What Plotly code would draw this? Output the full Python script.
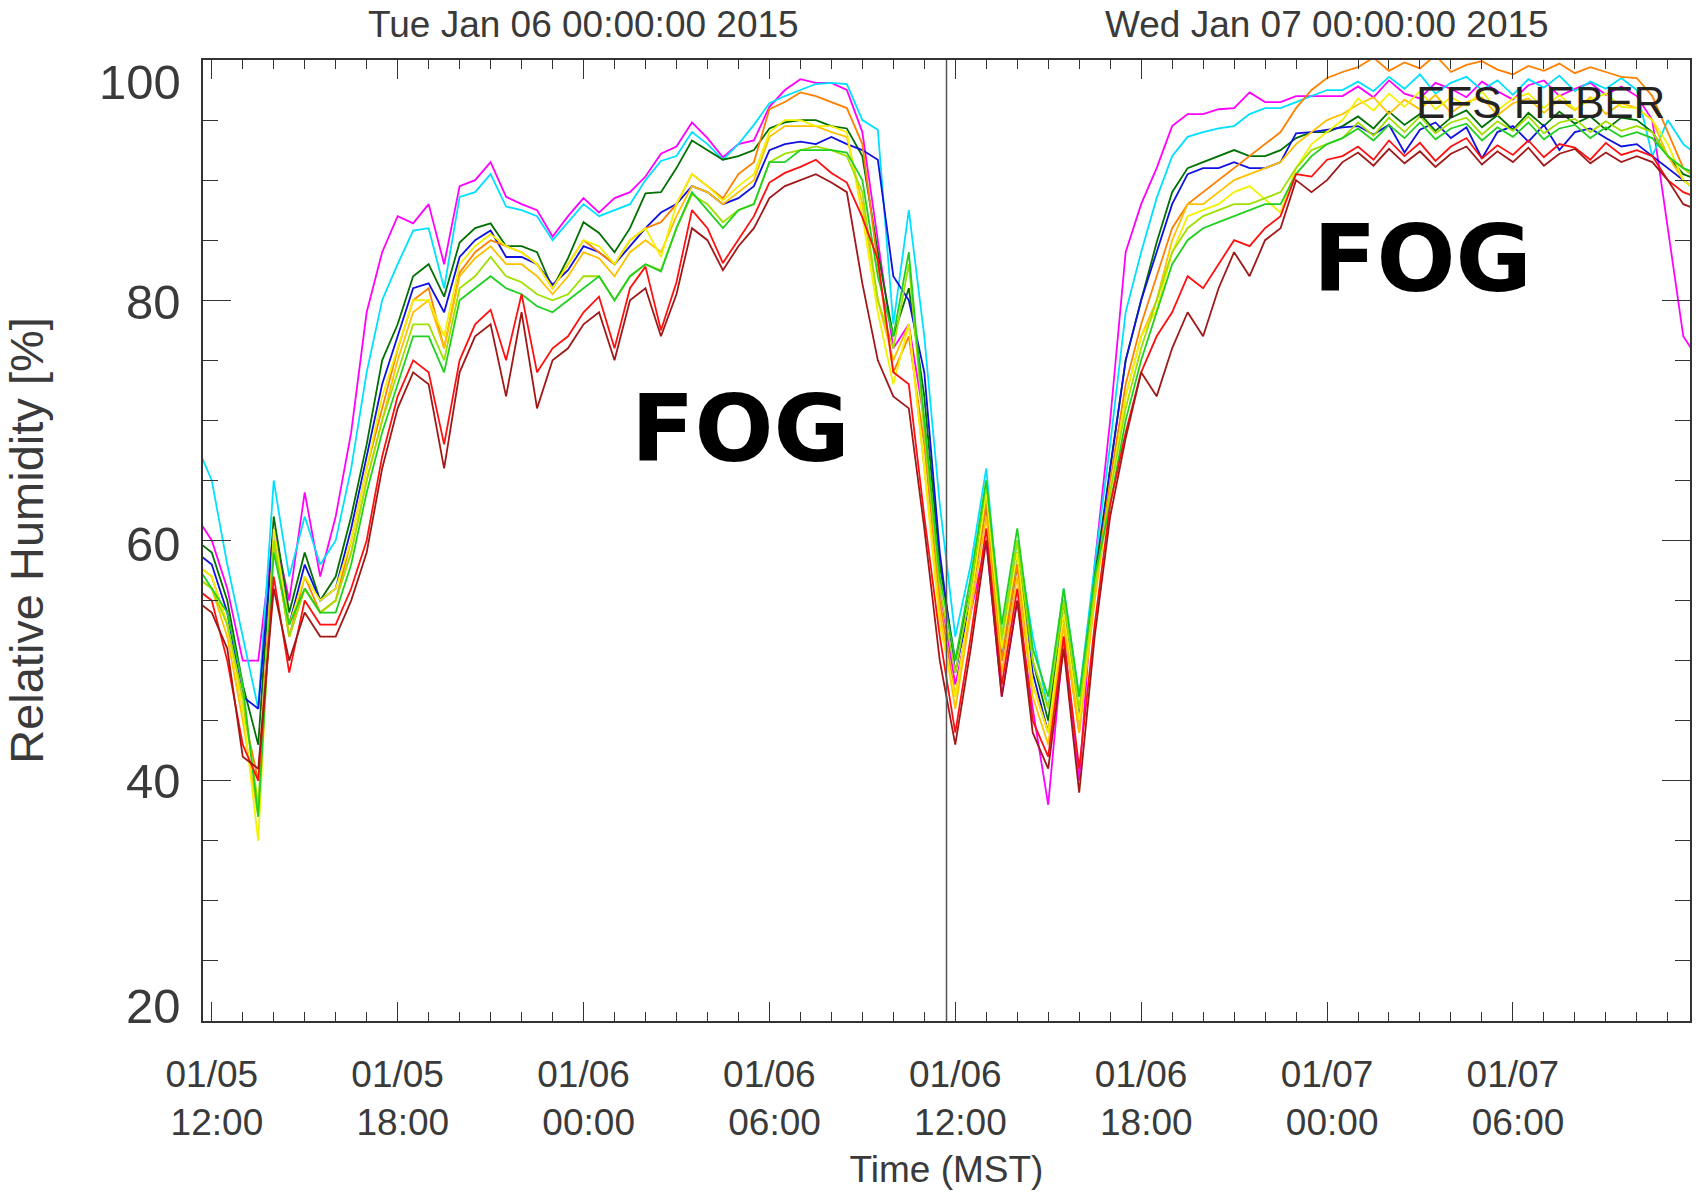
import pandas as pd
import plotly.graph_objects as go

# Half-hourly relative humidity samples, 2015-01-05 11:30 .. 2015-01-07 12:00 MST
times = pd.date_range("2015-01-05 11:30", periods=98, freq="30min")

rh_magenta = [62, 60, 56, 50, 50, 61, 55, 64, 57, 62, 69,
              79, 84, 87, 86.4, 88, 83, 89.5, 90, 91.5, 88.6, 88, 87.5, 85.3, 87, 88.5, 87.3, 88.5, 89, 90.3, 92.2,
              92.8, 94.8, 93.5, 91.9, 93, 93.3, 96.1, 97.5, 98.4, 98.1, 98.1, 97.5,
              94, 85, 76, 78, 70, 56, 48, 54, 60, 47, 55, 46, 38, 52, 40, 58,
              70, 84, 88, 91, 94.5, 95.5, 95.5, 95.9, 96, 97.3, 96.5, 96.5, 97, 97, 97, 97,
              97.8, 96.9, 98.3, 97.2, 96.8, 98.1, 97.6, 96.9, 98.2, 97.4, 96.7, 97.9, 98.3, 97, 97.6, 98.1, 97.1, 97.8,
              97, 95, 86, 77, 75]
rh_cyan = [68, 65, 58, 52, 46, 65, 57, 62, 58, 60, 66,
           74, 80, 83, 85.8, 86, 81, 88.6, 89, 90.5, 87.8, 87.5, 87, 85, 86.5, 88, 87, 87.5, 88, 90, 91.6,
           92, 94, 93, 91.7, 93, 94.6, 96.4, 97, 97.5, 98, 98.1, 98,
           95, 94.2, 78, 87.5, 77, 63, 52, 58, 66, 52, 60, 52, 46, 56, 47, 58,
           68, 79, 84, 88.5, 92, 93.6, 94, 94.3, 94.5, 95.5, 96, 96, 96.5, 97, 97.5, 97.5,
           98.2, 97.4, 98.6, 97.6, 98.8, 97.2, 98.1, 98.6, 97.5, 98.3, 97.1, 98.4, 97.7, 98.7, 97.4, 98.2, 97.6, 98.5,
           97.5, 92, 95, 93, 92]
rh_darkgreen = [60, 59, 55, 48, 43, 62, 54, 59, 55, 57, 62,
                68, 75, 78, 82, 83, 80.3, 84.8, 86, 86.4, 84.5, 84.5, 84, 81, 83.5, 86.5, 85.6, 84, 86, 88.9, 89,
                91, 93.3, 92.5, 91.7, 92, 92.5, 94.3, 94.8, 95, 95, 94.5, 94.3,
                92, 84, 77, 81, 72, 58, 50, 56, 64, 51, 59, 50, 45, 55, 45, 57,
                66, 75, 80, 84.8, 89, 91, 91.5, 92, 92.5, 92, 92, 92.5, 93.5, 94, 94, 94.5,
                95.3, 94.3, 95.7, 94.6, 95.5, 94.1, 95.2, 95.8, 94.4, 95.4, 94.2, 95.6, 94.5, 95.7, 94.7, 95.3, 94.2, 95.2,
                95, 94, 92, 90.5, 90]
rh_blue = [59, 58, 54, 47, 46, 61, 53, 58, 55, 56, 61,
           67, 73, 77, 81, 81.4, 79, 83.6, 85, 85.8, 83.6, 83.6, 83, 81.3, 82.5, 84.5, 84, 83, 84.5, 86, 87.3,
           88, 89.5, 89, 88, 88.5, 89.5, 92.5, 93, 93.2, 93, 93.6, 93,
           92.5, 91.7, 82, 80, 74, 59, 49, 55, 63, 50, 58, 49, 44, 54, 45, 56,
           66, 75, 80, 84, 88, 90.5, 91, 91, 91.5, 91, 91, 91.5, 93.9, 94, 94.2, 94.4,
           94.5, 93.8, 94.6, 92.3, 94.2, 94.8, 93.5, 94.4, 91.8, 94, 94.5, 93.2, 94.6, 92.5, 94, 94.3, 93.5, 92.8,
           93, 92, 91, 90, 89]
rh_orange = [58, 57, 53, 46, 40, 60, 52, 57, 54, 55, 60,
             66, 71, 75.9, 80, 81, 76, 82.3, 84, 85, 84.5, 84, 83, 81, 83, 85, 84, 83, 85, 86, 86.5,
             88, 90.5, 89.5, 88.5, 90.5, 91.5, 95.9, 96.5, 97.3, 97, 96.5, 96,
             93, 83, 74, 77, 68, 55, 47, 55, 63, 50, 58, 48, 44, 53, 44, 56,
             65, 73, 78, 82, 86, 88, 89, 90, 91, 92, 93, 94, 96, 97.5, 98.5, 99,
             99.4, 100.2, 99.1, 99.8, 99.3, 100.4, 99.0, 99.6, 99.9, 99.2, 98.8, 99.5, 99.1, 99.7, 98.9, 99.4, 99.0, 98.6,
             98.5, 97, 94, 91, 90]
rh_gold = [57, 56, 52, 45, 37, 60, 52, 56, 54, 55, 59,
           65, 70, 75, 79, 80, 76, 82, 83.5, 84.5, 83, 83, 82, 80.5, 82, 84, 83.5, 82, 84, 85, 84,
           87, 89.5, 89, 88, 89, 90, 93.6, 94.5, 94.5, 94.5, 94, 93.6,
           88, 80, 75, 78, 66, 54, 46, 54, 62, 49, 57, 47, 43, 53, 44, 55,
           64, 72, 77, 80, 85, 88, 88, 89, 90, 90.5, 91, 91.5, 93, 94, 95, 95.5,
           96.3, 96.9, 95.5, 96.7, 95.9, 97.1, 95.6, 96.5, 96.9, 95.4, 96.4, 96.8, 95.6, 96.7, 95.8, 96.9, 95.5, 96.4,
           96, 95, 92, 90, 89]
rh_yellow = [58, 57, 53, 46, 35, 61, 53, 57, 55, 56, 60,
             66, 72, 76, 80, 80, 77, 83, 84.5, 85.5, 84.5, 84, 83, 81, 83, 85, 84.5, 83, 85, 86, 83.6,
             88, 90.5, 89.5, 88.3, 89.5, 90.5, 94, 95, 95, 94.5, 94.5, 94,
             87, 79, 73, 78, 66, 53, 47, 55, 64, 51, 59, 48, 44, 54, 45, 56,
             64, 72, 77, 79.2, 84, 87, 87.5, 88, 89, 89.5, 88.4, 87.3, 91, 93, 94, 95,
             96.8, 95.8, 97.2, 96.1, 97.4, 95.9, 96.9, 96.2, 97.4, 95.8, 96.8, 97.2, 96, 97.1, 95.9, 96.7, 97.2, 96.1,
             96, 95, 93, 90, 89]
rh_lime = [57, 56, 53, 47, 38, 60, 52, 56, 54, 55, 59,
           65, 70, 74, 78, 78, 75, 81, 82, 83.6, 82, 81.5, 80.5, 80, 80.5, 82, 82, 80, 82, 83, 82.5,
           86, 88.8, 88, 86.5, 87.5, 88, 91.5, 92.2, 92.5, 92.8, 92.5, 92,
           89, 80, 76, 83, 69, 56, 49, 56, 65, 52, 60, 50, 46, 55, 46, 56,
           64, 71, 76, 80, 84, 86, 87, 87.5, 88, 88, 88.5, 89, 91, 92.5, 93, 93.5,
           94.8, 93.7, 95.2, 94, 95.3, 93.9, 94.8, 95.2, 93.8, 94.9, 94.1, 95.3, 93.9, 94.8, 95.1, 94, 94.9, 94.1,
           94.5, 94, 92, 91, 90]
rh_green = [58, 56, 54, 48, 37, 59, 53, 56, 54, 54, 58,
            64, 69, 73, 77, 77, 74, 80, 81, 82, 81, 80.5, 79.5, 79, 80, 81, 82, 80, 82, 83, 82.4,
            86, 89, 87.5, 86, 87.5, 88, 91.5, 91.5, 92.5, 92.5, 92.5, 92.3,
            90, 82, 77, 84, 70, 57, 50, 57, 65, 53, 61, 51, 47, 56, 47, 57,
            63, 70, 75, 79, 83, 85, 86, 86.5, 87, 87.5, 88, 88, 90.5, 92, 93, 93.5,
            94.3, 93.3, 94.6, 93.5, 94.8, 93.4, 94.3, 94.7, 93.3, 94.4, 93.6, 94.8, 93.4, 94.3, 94.6, 93.5, 94.4, 93.6,
            94, 93.5, 92, 91, 90.5]
rh_red = [56, 55, 50, 43, 40, 57, 49, 55, 53, 53, 56,
          60, 67, 72, 75, 74, 68, 75, 78, 79.2, 75, 80.5, 74, 76, 77, 79, 80.3, 76, 81, 82.8, 77.5,
          81.5, 87.5, 86, 83.1, 85, 87, 89.8, 90.6, 91.1, 91.7, 90.6, 89.8,
          86.9, 83.4, 74, 73, 62, 52, 44, 52, 61, 48, 56, 45, 42, 52, 41, 53,
          63, 69, 74, 77, 79, 82, 81, 83, 85, 84.5, 86, 87, 90.5, 90.3, 91.7, 92,
          92.8, 91.7, 93.3, 92, 93.1, 91.6, 92.8, 93.5, 91.8, 92.9, 92.1, 93.3, 91.9, 93, 92.7, 91.7, 93.1, 92.1,
          92.5, 92, 90, 89, 88.5]
rh_darkred = [55, 54, 51, 42, 41, 56, 50, 54, 52, 52, 55,
              59, 66, 71, 74, 73, 66, 74, 77, 78, 72, 79, 71, 75, 76, 78, 79, 75, 80, 81, 77,
              80.5, 86, 85, 82.5, 84.5, 86, 88.5, 89.5, 90, 90.5, 89.8, 89,
              81.4, 75, 72, 71, 61, 50, 43, 51, 60, 47, 55, 44, 41, 51, 39, 52,
              62, 68.5, 74, 72, 76, 79, 77, 81, 84, 82, 85, 86, 90, 89, 90, 91.5,
              92.3, 91.2, 92.6, 91.4, 92.4, 91.1, 92.2, 92.8, 91.3, 92.4, 91.5, 92.7, 91.2, 92.2, 92.6, 91.4, 92.3, 91.5,
              92, 91.5, 90, 88, 87.5]

sensor_series = [rh_magenta, rh_cyan, rh_darkgreen, rh_blue, rh_orange, rh_gold,
                 rh_yellow, rh_lime, rh_green, rh_red, rh_darkred]
sensor_colors = ["#ff00ff", "#00e0ff", "#007000", "#1010e0", "#ff8000", "#ffc000",
                 "#f2f200", "#a0e000", "#20d020", "#ff1010", "#a01818"]

x_tick_vals = ["2015-01-05 12:00", "2015-01-05 18:00", "2015-01-06 00:00", "2015-01-06 06:00",
               "2015-01-06 12:00", "2015-01-06 18:00", "2015-01-07 00:00", "2015-01-07 06:00"]
x_tick_text = ["01/05<br>\u00a012:00", "01/05<br>\u00a018:00", "01/06<br>\u00a000:00", "01/06<br>\u00a006:00",
               "01/06<br>\u00a012:00", "01/06<br>\u00a018:00", "01/07<br>\u00a000:00", "01/07<br>\u00a006:00"]
y_tick_vals = [20, 40, 60, 80, 100]
day_marks = ["2015-01-06 00:00", "2015-01-07 00:00"]
day_titles = ["Tue Jan 06 00:00:00 2015", "Wed Jan 07 00:00:00 2015"]
midday_split = "2015-01-06 11:43"

FONT = "Liberation Sans, Arial, Helvetica, sans-serif"
TXT = "#3a3a3a"
AX = "#333333"

fig = go.Figure()
for vals, col in zip(sensor_series, sensor_colors):
    assert len(vals) == len(times)
    fig.add_trace(go.Scatter(x=times, y=vals, mode="lines",
                             line=dict(color=col, width=1.8), hoverinfo="skip"))

fig.add_shape(type="line", xref="x", yref="paper", x0=midday_split, x1=midday_split,
              y0=0, y1=1, line=dict(color="#555555", width=1.5))

# y tick labels (end labels pulled inward, as the plotting package did)
label_shift = {100: -22, 80: -2, 60: -3, 40: 0, 20: 15}
for v in y_tick_vals:
    fig.add_annotation(text=str(v), xref="paper", x=0, xanchor="right", xshift=-20,
                       yref="y", y=v, yanchor="middle", yshift=label_shift[v],
                       showarrow=False, font=dict(family=FONT, size=49, color=TXT))

for d, t in zip(day_marks, day_titles):
    fig.add_annotation(text=t, xref="x", x=d, yref="paper", y=1, yanchor="middle", yshift=36,
                       showarrow=False, font=dict(family=FONT, size=37, color=TXT))

fig.add_annotation(text="EFS HEBER", xref="paper", x=0.9846, xanchor="right",
                   yref="y", y=96.5, yanchor="middle", showarrow=False,
                   font=dict(family=FONT, size=44, color="#222222"))
fig.add_annotation(text="FOG", xref="x", x="2015-01-06 05:04", yref="y", y=69.3,
                   showarrow=False, font=dict(family="DejaVu Sans", size=93, color="black", weight="bold"))
fig.add_annotation(text="FOG", xref="x", x="2015-01-07 03:04", yref="y", y=83.4,
                   showarrow=False, font=dict(family="DejaVu Sans", size=93, color="black", weight="bold"))

fig.update_layout(
    width=1699, height=1194,
    margin=dict(l=203, r=7, t=60, b=173),
    paper_bgcolor="white", plot_bgcolor="white",
    showlegend=False,
    font=dict(family=FONT, color=TXT),
)
fig.update_xaxes(
    type="date", range=["2015-01-05 11:43", "2015-01-07 11:43"],
    tickmode="array", tickvals=x_tick_vals, ticktext=x_tick_text,
    ticks="inside", ticklen=19, tickwidth=1.3, tickcolor=AX,
    showline=True, linecolor=AX, linewidth=1.5, mirror="allticks",
    showgrid=False, zeroline=False,
    tickfont=dict(family=FONT, size=37, color=TXT), ticklabelstandoff=20,
    minor=dict(ticks="inside", ticklen=9, tickwidth=1.2, tickcolor=AX,
               tick0="2015-01-05 12:00", dtick=3600000, showgrid=False),
    title=dict(text="Time (MST)", font=dict(family=FONT, size=37, color=TXT), standoff=14),
)
fig.update_yaxes(
    range=[20, 100], tickmode="array", tickvals=y_tick_vals, showticklabels=False,
    ticks="inside", ticklen=28, tickwidth=1.3, tickcolor=AX,
    showline=True, linecolor=AX, linewidth=1.5, mirror="allticks",
    showgrid=False, zeroline=False,
    minor=dict(ticks="inside", ticklen=15, tickwidth=1.2, tickcolor=AX, dtick=5, showgrid=False),
    title=dict(text="Relative Humidity [%]", font=dict(family=FONT, size=47, color=TXT), standoff=143),
)

fig.write_html("out.html")
